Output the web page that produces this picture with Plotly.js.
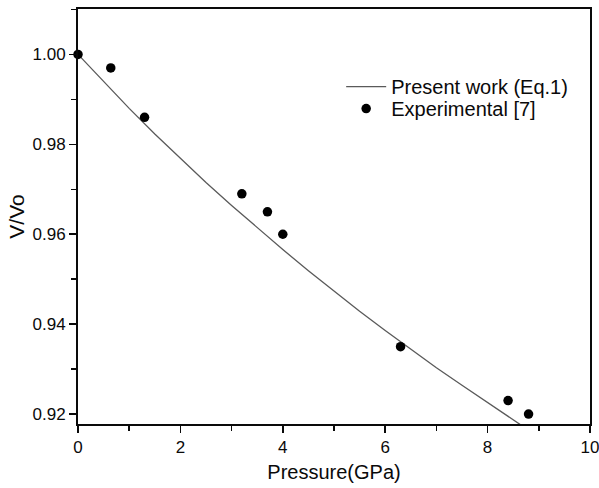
<!DOCTYPE html>
<html>
<head>
<meta charset="utf-8">
<script src="https://cdn.plot.ly/plotly-3.0.1.min.js"></script>
<style>
  html, body { margin: 0; padding: 0; background: #fff; overflow: hidden; }
  #chart { width: 599px; height: 488px; }
</style>
</head>
<body>
<div id="chart"></div>
<script>
// Eq.1 curve: relative volume vs pressure
const modelPressure = [0, 0.5, 1.0, 1.5, 2.0, 2.5, 3.0, 3.5, 4.0, 4.5, 5.0, 5.5, 6.0, 6.5, 7.0, 7.5, 8.0, 8.5, 8.7];
const modelVolume   = [1.0000, 0.9939, 0.9880, 0.9823, 0.9769, 0.9715, 0.9664, 0.9614, 0.9566, 0.9519,
                       0.9473, 0.9429, 0.9386, 0.9344, 0.9303, 0.9264, 0.9225, 0.9187, 0.9172];

// Experimental points [7]
const expPressure = [0, 0.64, 1.30, 3.20, 3.70, 4.00, 6.30, 8.40, 8.80];
const expVolume   = [1.000, 0.997, 0.986, 0.969, 0.965, 0.960, 0.935, 0.923, 0.920];

const xRange = [0, 10];
const yRange = [0.9178, 1.0101];
const yTickVals = [0.92, 0.94, 0.96, 0.98, 1.00];
const yTickText = ['0.92', '0.94', '0.96', '0.98', '1.00'];

const FONT = 'Liberation Sans, Arial, Helvetica, sans-serif';
const INK = '#0a0a0a';

const traces = [
  {
    x: modelPressure, y: modelVolume,
    type: 'scatter', mode: 'lines',
    name: 'Present work (Eq.1)',
    line: { color: '#5a5a5a', width: 1.3 },
    legend: 'legend',
    hoverinfo: 'x+y'
  },
  {
    x: expPressure, y: expVolume,
    type: 'scatter', mode: 'markers',
    name: 'Experimental [7]',
    marker: { color: '#000000', size: 9.5 },
    cliponaxis: false,
    legend: 'legend2',
    hoverinfo: 'x+y'
  }
];

const legendBase = {
  xanchor: 'left', yanchor: 'top',
  bgcolor: 'rgba(0,0,0,0)',
  font: { family: FONT, size: 20, color: INK },
  itemwidth: 40
};

const layout = {
  width: 599, height: 488,
  margin: { l: 78, r: 9, t: 9, b: 64 },
  paper_bgcolor: '#ffffff',
  plot_bgcolor: '#ffffff',
  font: { family: FONT, color: INK, size: 16 },
  showlegend: true,
  legend:  Object.assign({ x: 0.514, y: 0.86 }, legendBase),
  legend2: Object.assign({ x: 0.514, y: 0.807 }, legendBase),
  xaxis: {
    range: xRange, dtick: 2, tick0: 0,
    ticks: 'outside', ticklen: 7, tickwidth: 1.6, tickcolor: INK,
    minor: { dtick: 1, ticks: 'outside', ticklen: 5, tickwidth: 1.6, tickcolor: INK },
    showline: true, linecolor: INK, linewidth: 2, mirror: true,
    showgrid: false, zeroline: false,
    ticklabeloverflow: 'allow',
    tickfont: { family: FONT, size: 17, color: INK },
    title: { text: 'Pressure(GPa)', font: { family: FONT, size: 20, color: INK }, standoff: 9 }
  },
  yaxis: {
    range: yRange, tickvals: yTickVals, ticktext: yTickText,
    ticks: 'outside', ticklen: 7, tickwidth: 1.6, tickcolor: INK,
    minor: { dtick: 0.01, tick0: 0.92, ticks: 'outside', ticklen: 5, tickwidth: 1.6, tickcolor: INK },
    showline: true, linecolor: INK, linewidth: 2, mirror: true,
    showgrid: false, zeroline: false,
    tickfont: { family: FONT, size: 17, color: INK },
    title: { text: 'V/Vo', font: { family: FONT, size: 21, color: INK }, standoff: 2 }
  },
  // inward ticks along the top and right frame edges
  xaxis2: {
    overlaying: 'x', side: 'top', anchor: 'y', range: xRange,
    dtick: 1, tick0: 0, ticks: 'inside', ticklen: 6, tickwidth: 1.6, tickcolor: INK,
    showticklabels: false, showline: false, showgrid: false, zeroline: false
  },
  yaxis2: {
    overlaying: 'y', side: 'right', anchor: 'x', range: yRange,
    dtick: 0.01, tick0: 0.92, ticks: 'inside', ticklen: 6, tickwidth: 1.6, tickcolor: INK,
    showticklabels: false, showline: false, showgrid: false, zeroline: false
  }
};

Plotly.newPlot('chart', traces, layout, { displayModeBar: false, staticPlot: true });
</script>
</body>
</html>
